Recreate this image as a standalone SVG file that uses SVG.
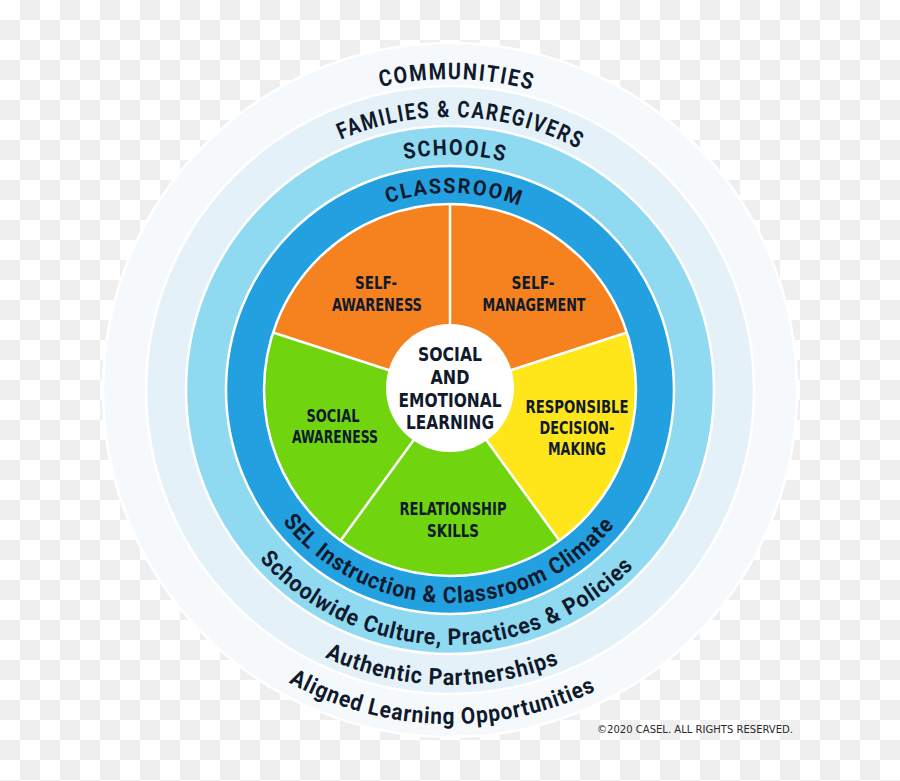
<svg xmlns="http://www.w3.org/2000/svg" width="900" height="781" viewBox="0 0 900 781">
<style>
.ring{stroke:#ffffff;stroke-width:2.5}
.lbl{font-family:"DejaVu Sans Condensed","Liberation Sans",sans-serif;font-weight:bold;fill:#0f1a2c;text-anchor:middle}
.pie{font-size:18.5px}
.ctr{font-size:19px}
.arc{font-family:Roboto,"Liberation Sans",sans-serif;font-weight:bold;fill:#0f1a2c;text-anchor:middle}
.caps{letter-spacing:2px}
.mix{letter-spacing:1px}
.div{stroke:#ffffff;stroke-width:2.5;fill:none}
.copy{font-family:"DejaVu Sans Condensed","Liberation Sans",sans-serif;font-size:10.5px;fill:#2a2a2a;text-anchor:end}
</style>
<defs>
<pattern id="chk" width="40" height="40" patternUnits="userSpaceOnUse">
<rect width="40" height="40" fill="#ffffff"/>
<rect x="20" y="0" width="20" height="20" fill="#efefef"/>
<rect x="0" y="20" width="20" height="20" fill="#efefef"/>
</pattern>
<path id="t311" d="M139,390 A311,311 0 0 1 761,390"/>
<path id="t273" d="M177,390 A273,273 0 0 1 723,390"/>
<path id="t235" d="M215,390 A235,235 0 0 1 685,390"/>
<path id="t197" d="M253,390 A197,197 0 0 1 647,390"/>
<path id="b213" d="M237,390 A213,213 0 0 0 663,390"/>
<path id="b255" d="M195,390 A255,255 0 0 0 705,390"/>
<path id="b295" d="M155,390 A295,295 0 0 0 745,390"/>
<path id="b334" d="M116,390 A334,334 0 0 0 784,390"/>
</defs>
<rect width="900" height="781" fill="url(#chk)"/>

<g id="communities">
<circle class="ring" cx="450" cy="390" r="347" fill="#f5f9fc"/>
<text class="arc caps" font-size="23"><textPath href="#t311" startOffset="50.7%" textLength="154" lengthAdjust="spacingAndGlyphs">COMMUNITIES</textPath></text>
<text class="arc mix" font-size="23"><textPath href="#b334" startOffset="49.2%" textLength="320" lengthAdjust="spacingAndGlyphs">Aligned Learning Opportunities</textPath></text>
</g>
<g id="families">
<circle class="ring" cx="450" cy="390" r="304" fill="#e5f1f9"/>
<text class="arc caps" font-size="23"><textPath href="#t273" startOffset="51.3%" textLength="247" lengthAdjust="spacingAndGlyphs">FAMILIES &amp; CAREGIVERS</textPath></text>
<text class="arc mix" font-size="23"><textPath href="#b295" startOffset="49.1%" textLength="242" lengthAdjust="spacingAndGlyphs">Authentic Partnerships</textPath></text>
</g>
<g id="schools">
<circle class="ring" cx="450" cy="390" r="264" fill="#8fd9f1"/>
<text class="arc caps" font-size="22"><textPath href="#t235" startOffset="50.7%" textLength="102" lengthAdjust="spacingAndGlyphs">SCHOOLS</textPath></text>
<text class="arc mix" font-size="23"><textPath href="#b255" startOffset="49.4%" textLength="421" lengthAdjust="spacingAndGlyphs">Schoolwide Culture, Practices &amp; Policies</textPath></text>
</g>
<g id="classroom">
<circle class="ring" cx="450" cy="390" r="224" fill="#22a0e0"/>
<text class="arc caps" font-size="21"><textPath href="#t197" startOffset="50.7%" textLength="136" lengthAdjust="spacingAndGlyphs">CLASSROOM</textPath></text>
<text class="arc mix" font-size="23"><textPath href="#b213" startOffset="49.7%" textLength="381" lengthAdjust="spacingAndGlyphs">SEL Instruction &amp; Classroom Climate</textPath></text>
</g>

<g id="self-awareness">
<path d="M450,390 L273.10,332.52 A186,186 0 0 1 450,204 Z" fill="#f6821f"/>
<text class="lbl pie" x="376" y="289" textLength="42" lengthAdjust="spacingAndGlyphs">SELF-</text>
<text class="lbl pie" x="377" y="311" textLength="90" lengthAdjust="spacingAndGlyphs">AWARENESS</text>
</g>
<g id="self-management">
<path d="M450,390 L450,204 A186,186 0 0 1 626.90,332.52 Z" fill="#f6821f"/>
<text class="lbl pie" x="533" y="289" textLength="43" lengthAdjust="spacingAndGlyphs">SELF-</text>
<text class="lbl pie" x="534" y="311" textLength="103" lengthAdjust="spacingAndGlyphs">MANAGEMENT</text>
</g>
<g id="responsible-decision-making">
<path d="M450,390 L626.90,332.52 A186,186 0 0 1 559.33,540.48 Z" fill="#ffe61a"/>
<text class="lbl pie" x="577" y="413" textLength="103" lengthAdjust="spacingAndGlyphs">RESPONSIBLE</text>
<text class="lbl pie" x="577" y="434" textLength="75" lengthAdjust="spacingAndGlyphs">DECISION-</text>
<text class="lbl pie" x="577" y="455" textLength="58" lengthAdjust="spacingAndGlyphs">MAKING</text>
</g>
<g id="relationship-skills">
<path d="M450,390 L559.33,540.48 A186,186 0 0 1 340.67,540.48 Z" fill="#70d50e"/>
<text class="lbl pie" x="453" y="515" textLength="107" lengthAdjust="spacingAndGlyphs">RELATIONSHIP</text>
<text class="lbl pie" x="453" y="537" textLength="52" lengthAdjust="spacingAndGlyphs">SKILLS</text>
</g>
<g id="social-awareness">
<path d="M450,390 L340.67,540.48 A186,186 0 0 1 273.10,332.52 Z" fill="#70d50e"/>
<text class="lbl pie" x="333" y="422" textLength="53" lengthAdjust="spacingAndGlyphs">SOCIAL</text>
<text class="lbl pie" x="335" y="443" textLength="86" lengthAdjust="spacingAndGlyphs">AWARENESS</text>
</g>

<g id="connectors">
<line class="div" x1="450" y1="390" x2="450" y2="204"/>
<line class="div" x1="450" y1="390" x2="626.90" y2="332.52"/>
<line class="div" x1="450" y1="390" x2="559.33" y2="540.48"/>
<line class="div" x1="450" y1="390" x2="340.67" y2="540.48"/>
<line class="div" x1="450" y1="390" x2="273.10" y2="332.52"/>
<circle class="div" cx="450" cy="390" r="186"/>
</g>

<g id="sel-center">
<circle cx="450" cy="388" r="64" fill="#ffffff"/>
<text class="lbl ctr" x="450" y="361" textLength="64" lengthAdjust="spacingAndGlyphs">SOCIAL</text>
<text class="lbl ctr" x="450" y="384" textLength="39" lengthAdjust="spacingAndGlyphs">AND</text>
<text class="lbl ctr" x="450" y="407" textLength="103" lengthAdjust="spacingAndGlyphs">EMOTIONAL</text>
<text class="lbl ctr" x="450" y="429" textLength="88" lengthAdjust="spacingAndGlyphs">LEARNING</text>
</g>

<text class="copy" x="793" y="733" textLength="196" lengthAdjust="spacingAndGlyphs">©2020 CASEL. ALL RIGHTS RESERVED.</text>
</svg>
